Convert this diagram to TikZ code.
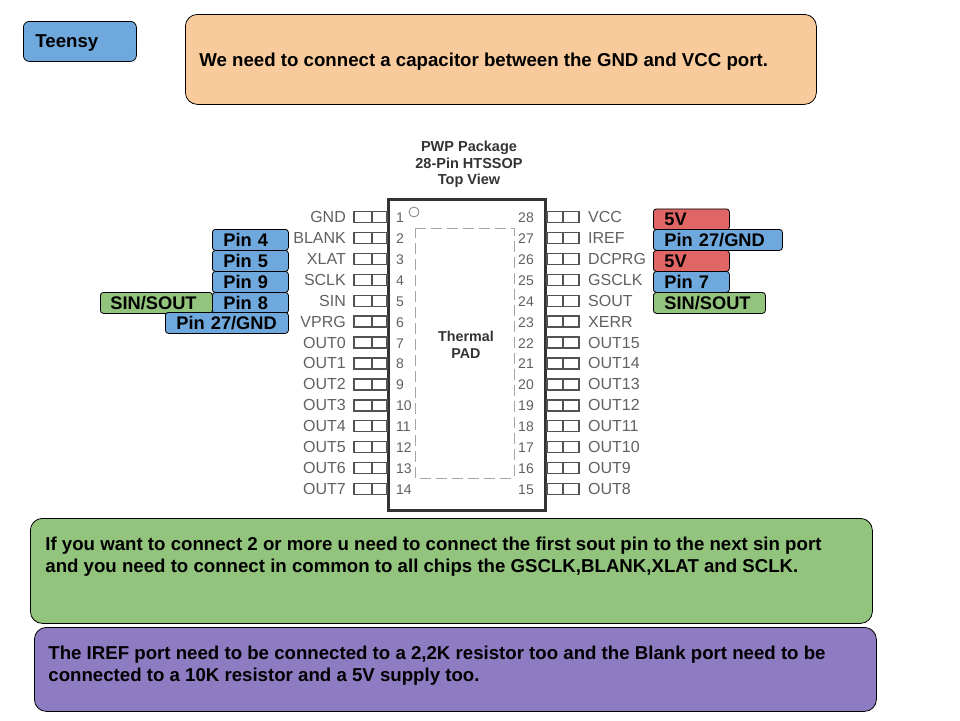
\documentclass[tikz,border=0pt]{standalone}
\usepackage{fontspec}
\setmainfont{Liberation Sans}
\definecolor{tblue}{HTML}{6FA8DC}
\definecolor{tred}{HTML}{E06666}
\definecolor{tgreen}{HTML}{93C47D}
\definecolor{torange}{HTML}{F9CB9C}
\definecolor{tpurple}{HTML}{8E7CC3}
\definecolor{pingray}{HTML}{606060}
\definecolor{chipline}{HTML}{333333}
\newcommand{\paneltext}[4]{\parbox[c][#1pt][t]{#2pt}{\raggedright\vspace*{#3pt}#4}}
\tikzset{
  px/.style={x=1pt,y=-1pt},
  boxtext/.style={font=\fontsize{18.25}{22.5}\selectfont\bfseries,text=black},
  notetext/.style={font=\fontsize{18.65}{22.2}\selectfont\bfseries,text=black},
  panel/.style n args={2}{draw=black,line width=0.8pt,rounded corners=#2,fill=#1,notetext,anchor=north west,inner ysep=0pt},
  tagbox/.style n args={2}{draw=black,line width=0.8pt,rounded corners=3pt,fill=#2,boxtext,anchor=north west,
    minimum height=21pt,minimum width=#1,text width=#1-22pt,align=left,inner xsep=11pt,inner ysep=0pt},
  pinname/.style={font=\fontsize{16}{18}\selectfont,text=pingray,inner sep=0pt},
  pinnum/.style={font=\fontsize{14}{16}\selectfont,text=pingray,inner sep=0pt},
  pinbox/.style={draw=chipline!85,line width=1.5pt,fill=white},
  chipbody/.style={draw=chipline,line width=3pt,fill=white},
  padline/.style={draw=gray!70,line width=1pt,dash pattern=on 11pt off 5pt},
  headtext/.style={font=\fontsize{14.5}{16.7}\selectfont\bfseries,text=chipline,align=center,inner sep=0pt},
  padtext/.style={font=\fontsize{14.3}{17}\selectfont\bfseries,text=chipline,align=center,inner sep=0pt},
}
\begin{document}
\begin{tikzpicture}[px]
\useasboundingbox (0,0) rectangle (960,720);
% panels
\node[panel={tblue}{6pt},inner xsep=12pt] (teensy) at (23,21) {\paneltext{40}{89}{13.5}{Teensy}};
\node[panel={torange}{12pt},inner xsep=14pt] (note1) at (185,14) {\paneltext{90}{603}{39}{We need to connect a capacitor between the GND and VCC port.}};
\node[panel={tgreen}{12pt},inner xsep=15pt] (note2) at (30,518) {\paneltext{105}{812}{18.5}{If you want to connect 2 or more u need to connect the first sout pin to the next sin port\\and you need to connect in common to all chips the GSCLK,BLANK,XLAT and SCLK.}};
\node[panel={tpurple}{12pt},inner xsep=14pt] (note3) at (34,627) {\paneltext{84}{814}{18.5}{The IREF port need to be connected to a 2,2K resistor too and the Blank port need to be\\connected to a 10K resistor and a 5V supply too.}};
% chip
\node[headtext] (head) at (469,164.5) {PWP Package\\28-Pin HTSSOP\\Top View};
\draw[chipbody] (388,199) rectangle (545,510);
\draw[padline] (415,228) -- (514,228) -- (514,478) -- (415,478) -- cycle;
\draw[draw=gray,line width=0.8pt,fill=white] (414,212) circle (5);
\node[padtext] (pad) at (466,345) {Thermal\\PAD};
% pins
\foreach \n/\lab [count=\i from 0] in {1/GND,2/BLANK,3/XLAT,4/SCLK,5/SIN,6/VPRG,7/OUT0,8/OUT1,9/OUT2,10/OUT3,11/OUT4,12/OUT5,13/OUT6,14/OUT7}{
  \pgfmathsetmacro{\py}{217.2+20.9*\i}
  \draw[pinbox] (354,\py-5.5) rectangle (387,\py+5.5);
  \draw[pinbox] (372,\py-5.5) -- (372,\py+5.5);
  \node[pinname,anchor=mid east] (l\n) at (346,\py+2.8) {\lab};
  \node[pinnum,anchor=mid west] (ln\n) at (396,\py+2.8) {\n};
}
\foreach \n/\lab [count=\i from 0] in {28/VCC,27/IREF,26/DCPRG,25/GSCLK,24/SOUT,23/XERR,22/OUT15,21/OUT14,20/OUT13,19/OUT12,18/OUT11,17/OUT10,16/OUT9,15/OUT8}{
  \pgfmathsetmacro{\py}{217.2+20.9*\i}
  \draw[pinbox] (547,\py-5.5) rectangle (579,\py+5.5);
  \draw[pinbox] (563,\py-5.5) -- (563,\py+5.5);
  \node[pinname,anchor=mid west] (r\n) at (588,\py+2.8) {\lab};
  \node[pinnum,anchor=mid east] (rn\n) at (534,\py+2.8) {\n};
}
% left tags
\node[tagbox={76pt}{tblue}] (t4) at (212,229) {Pin 4};
\node[tagbox={76pt}{tblue}] (t5) at (212,250) {Pin 5};
\node[tagbox={76pt}{tblue}] (t9) at (212,271) {Pin 9};
\node[tagbox={76pt}{tblue}] (t8) at (212,292) {Pin 8};
\node[tagbox={112pt}{tgreen},inner xsep=10pt,text width=92pt] (tss) at (100,292) {SIN/SOUT};
\node[tagbox={123pt}{tblue}] (tg) at (165,312) {Pin 27/GND};
% right tags
\node[tagbox={76pt}{tred}] (r5a) at (653,208.5) {5V};
\node[tagbox={129pt}{tblue}] (rg) at (653,229) {Pin 27/GND};
\node[tagbox={76pt}{tred}] (r5b) at (653,250) {5V};
\node[tagbox={76pt}{tblue}] (r7) at (653,271) {Pin 7};
\node[tagbox={112pt}{tgreen}] (rss) at (653,292) {SIN/SOUT};
\end{tikzpicture}
\end{document}
